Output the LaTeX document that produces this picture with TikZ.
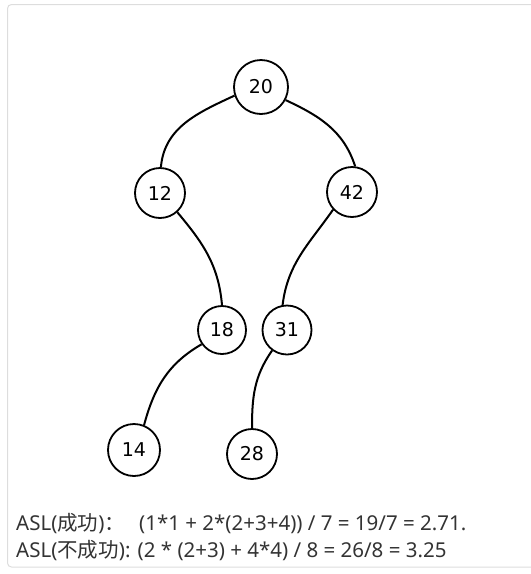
\documentclass[tikz,border=0pt]{standalone}
\usepackage{fontspec}
\setmainfont{Noto Sans}
\newfontfamily\cjk{Noto Sans CJK SC}
\newfontfamily\numfont{DejaVu Sans}
\definecolor{framegray}{HTML}{DDDDDD}
\definecolor{txtgray}{HTML}{333333}
\begin{document}
\begin{tikzpicture}[x=1pt,y=-1pt,
  treenode/.style={circle,draw=black,line width=1.8pt,minimum size=50pt,inner sep=0pt,font=\numfont\fontsize{19}{19}\selectfont},
  edge/.style={line width=2pt,draw=black},
  asl/.style={anchor=base west,inner sep=0pt,text=txtgray,font=\fontsize{20.5}{22}\selectfont}]
\useasboundingbox (0,0) rectangle (531,574);
\draw[framegray,line width=1pt,rounded corners=4pt] (7.5,4.5) rectangle (545,567);
\node[treenode,minimum size=54pt] (n20) at (261,87) {20};
\node[treenode] (n12) at (160,193) {12};
\node[treenode] (n42) at (352,192) {42};
\node[treenode,minimum size=48pt] (n18) at (222,330) {18};
\node[treenode,minimum size=49pt] (n31) at (287,330) {31};
\node[treenode,minimum size=52pt] (n14) at (134,450) {14};
\node[treenode] (n28) at (252,454) {28};
\draw[edge] (n20.198) to[out=205,in=85] (n12.88);
\draw[edge] (n20.332) to[out=335,in=108] (n42.83);
\draw[edge] (n12.312) to[out=310,in=95] (n18.90);
\draw[edge] (n42.223) to[out=235,in=83] (n31.100);
\draw[edge] (n18.215) to[out=210,in=75] (n14.68);
\draw[edge] (n31.234) to[out=235,in=90] (n28.90);
\node[asl] (l1) at (16,530) {ASL({\cjk 成功}){\cjk ：}\ \ \,(1*1 + 2*(2+3+4)) / 7 = 19/7 = 2.71.};
\node[asl] (l2) at (16,557) {ASL({\cjk 不成功}): (2 * (2+3) + 4*4) / 8 = 26/8 = 3.25};
\end{tikzpicture}
\end{document}
